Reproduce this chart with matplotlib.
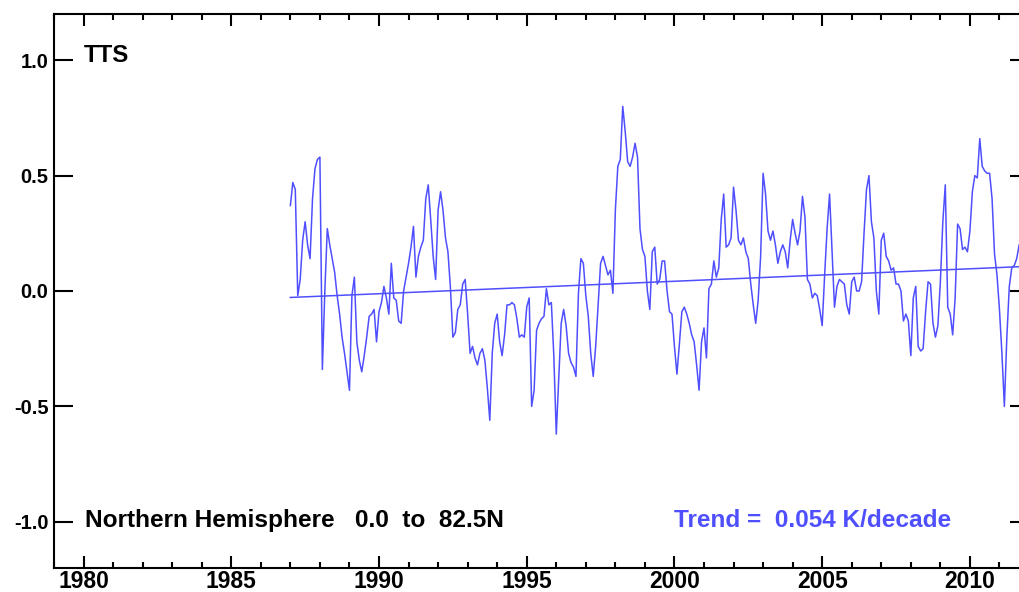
import matplotlib
matplotlib.use("Agg")
import matplotlib.pyplot as plt
import numpy as np
from matplotlib.ticker import MultipleLocator

plt.rcParams['font.family'] = ['Liberation Sans', 'DejaVu Sans']
plt.rcParams['font.weight'] = 'bold'

# Monthly TTS anomalies (K), Northern Hemisphere, Jan 1987 .. Sep 2011
start_year = 1987
anomaly = [
    0.37, 0.47, 0.44, -0.02, 0.05, 0.22, 0.30, 0.20, 0.14, 0.40, 0.53, 0.57,      # 1987
    0.58, -0.34, 0.00, 0.27, 0.20, 0.14, 0.08, -0.02, -0.10, -0.20, -0.27, -0.35, # 1988
    -0.43, -0.02, 0.06, -0.22, -0.30, -0.35, -0.28, -0.20, -0.11, -0.10, -0.08, -0.22, # 1989
    -0.09, -0.05, 0.02, -0.03, -0.10, 0.12, -0.03, -0.04, -0.13, -0.14, 0.00, 0.06,    # 1990
    0.12, 0.19, 0.28, 0.06, 0.15, 0.19, 0.22, 0.40, 0.46, 0.31, 0.15, 0.05,        # 1991
    0.35, 0.43, 0.35, 0.23, 0.17, 0.015, -0.20, -0.18, -0.08, -0.06, 0.03, 0.05,   # 1992
    -0.10, -0.27, -0.24, -0.29, -0.32, -0.27, -0.25, -0.30, -0.42, -0.56, -0.27, -0.14, # 1993
    -0.10, -0.22, -0.28, -0.19, -0.06, -0.06, -0.05, -0.06, -0.12, -0.20, -0.19, -0.20, # 1994
    -0.07, -0.03, -0.50, -0.43, -0.17, -0.14, -0.12, -0.11, 0.01, -0.06, -0.05, -0.28,  # 1995
    -0.62, -0.38, -0.14, -0.08, -0.15, -0.27, -0.31, -0.33, -0.37, -0.01, 0.14, 0.12,   # 1996
    -0.02, -0.11, -0.27, -0.37, -0.24, -0.06, 0.12, 0.15, 0.11, 0.07, 0.09, -0.01,      # 1997
    0.35, 0.54, 0.57, 0.80, 0.69, 0.56, 0.54, 0.58, 0.64, 0.58, 0.27, 0.18,        # 1998
    0.15, 0.00, -0.08, 0.17, 0.19, 0.03, 0.05, 0.13, 0.13, 0.00, -0.09, -0.10,     # 1999
    -0.24, -0.36, -0.23, -0.09, -0.07, -0.10, -0.14, -0.19, -0.22, -0.32, -0.43, -0.22, # 2000
    -0.16, -0.29, 0.01, 0.03, 0.13, 0.06, 0.10, 0.31, 0.42, 0.19, 0.20, 0.23,      # 2001
    0.45, 0.35, 0.22, 0.20, 0.23, 0.17, 0.14, 0.03, -0.06, -0.14, -0.04, 0.15,     # 2002
    0.51, 0.42, 0.26, 0.22, 0.26, 0.20, 0.12, 0.17, 0.20, 0.17, 0.10, 0.22,        # 2003
    0.31, 0.25, 0.20, 0.26, 0.41, 0.32, 0.05, 0.03, -0.03, -0.01, -0.02, -0.08,    # 2004
    -0.15, 0.07, 0.27, 0.42, 0.18, -0.07, 0.02, 0.05, 0.04, 0.03, -0.06, -0.10,    # 2005
    0.04, 0.06, 0.00, 0.00, 0.04, 0.25, 0.44, 0.50, 0.30, 0.23, 0.00, -0.10,       # 2006
    0.22, 0.25, 0.15, 0.13, 0.09, 0.10, 0.03, 0.03, 0.00, -0.13, -0.10, -0.13,     # 2007
    -0.28, -0.03, 0.02, -0.24, -0.26, -0.25, -0.09, 0.04, 0.03, -0.14, -0.20, -0.15, # 2008
    0.04, 0.30, 0.46, -0.07, -0.10, -0.19, -0.03, 0.29, 0.27, 0.18, 0.19, 0.17,    # 2009
    0.26, 0.43, 0.50, 0.49, 0.66, 0.54, 0.52, 0.51, 0.51, 0.40, 0.16, 0.07,        # 2010
    -0.08, -0.27, -0.50, -0.20, 0.02, 0.10, 0.11, 0.14, 0.20,                      # 2011
]

trend_per_decade = 0.054
trend_start_value = -0.028

x_ticks = [1980, 1985, 1990, 1995, 2000, 2005, 2010]
y_ticks = [-1.0, -0.5, 0.0, 0.5, 1.0]
y_tick_labels = ['-1.0', '-0.5', '0.0', '0.5', '1.0']

title_text = 'TTS'
region_text = 'Northern Hemisphere   0.0  to  82.5N'
trend_text = 'Trend =  0.054 K/decade'

blue = '#4f4fff'

t = start_year + np.arange(len(anomaly)) / 12.0
vals = np.array(anomaly)
trend_vals = trend_start_value + trend_per_decade * (t - t[0]) / 10.0

fig = plt.figure(figsize=(10.19, 5.92), dpi=100)
ax = fig.add_axes([54 / 1019, 24 / 592, 975 / 1019, 554 / 592])

ax.plot(t, vals, color=blue, lw=1.1)
ax.plot([t[0], t[-1]], [trend_vals[0], trend_vals[-1]], color=blue, lw=1.1)

ax.set_xlim(1979, 2012)
ax.set_ylim(-1.2, 1.2)

ax.set_xticks(x_ticks)
ax.set_xticklabels([str(v) for v in x_ticks], fontsize=16.5, fontweight='bold')
ax.xaxis.set_minor_locator(MultipleLocator(1))
ax.set_yticks(y_ticks)
ax.set_yticklabels(y_tick_labels, fontsize=14.5, fontweight='bold')

ax.tick_params(axis='x', which='major', direction='in', length=8.5, width=1.5,
               top=True, bottom=True, pad=1.5)
ax.tick_params(axis='x', which='minor', direction='in', length=4.5, width=1.5,
               top=True, bottom=True)
ax.tick_params(axis='y', which='major', direction='in', length=13.5, width=1.5,
               left=True, right=True, pad=4)

for s in ax.spines.values():
    s.set_linewidth(1.5)

ax.text(1980.0, 1.02, title_text, fontsize=17.3, fontweight='bold', va='center', ha='left')
ax.text(1980.05, -0.995, region_text, fontsize=17.6, fontweight='bold', va='center', ha='left')
ax.text(2000.0, -0.995, trend_text, fontsize=17.6, fontweight='bold', va='center', ha='left',
        color=blue)

fig.savefig('out.png', dpi=100)
